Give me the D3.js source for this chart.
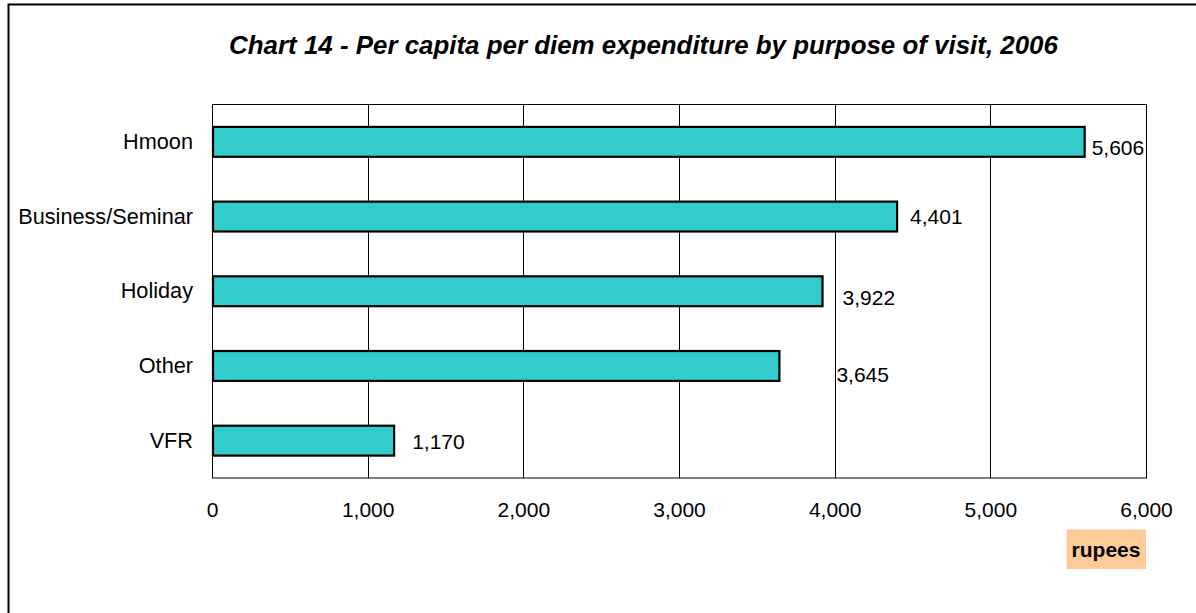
<!DOCTYPE html>
<html>
<head>
<meta charset="utf-8">
<script src="https://cdn.jsdelivr.net/npm/d3@7"></script>
<style>
  html, body { margin: 0; padding: 0; background: #fff; }
  svg { display: block; font-family: "Liberation Sans", Arial, sans-serif; }
</style>
</head>
<body>
<svg id="chart" width="1196" height="613"></svg>
<script>
// ---- data ----
const categories = ["Hmoon", "Business/Seminar", "Holiday", "Other", "VFR"];
const values = [5606, 4401, 3922, 3645, 1170];
const tickValues = [0, 1000, 2000, 3000, 4000, 5000, 6000];
const titleText = "Chart 14 - Per capita per diem expenditure by purpose of visit, 2006";
const unitText = "rupees";
// label nudges (layout only, mimicking original label placement)
const labelDx = [7, 13, 20, 57, 18];
const labelDy = [6, 0, 6, 9, 1];

// ---- layout ----
const svg = d3.select("#chart");
const plot = { left: 212, right: 1146, top: 104.5, bottom: 478 };

// outer frame
svg.append("path")
  .attr("d", "M8.5,613 L8.5,4.5 L1196,4.5")
  .attr("fill", "none").attr("stroke", "#000").attr("stroke-width", 2);

const x = d3.scaleLinear().domain([0, 6000]).range([plot.left, plot.right]);
const y = d3.scaleBand().domain(categories).range([plot.top, plot.bottom])
  .paddingInner(0.6).paddingOuter(0.3);

// gridlines
svg.append("g").selectAll("line").data(tickValues.slice(1, -1)).join("line")
  .attr("x1", d => Math.round(x(d)) + 0.5).attr("x2", d => Math.round(x(d)) + 0.5)
  .attr("y1", plot.top).attr("y2", plot.bottom)
  .attr("stroke", "#000").attr("stroke-width", 1);

// plot border
svg.append("rect")
  .attr("x", plot.left + 0.5).attr("y", plot.top)
  .attr("width", plot.right - plot.left).attr("height", plot.bottom - plot.top)
  .attr("fill", "none").attr("stroke", "#000").attr("stroke-width", 1);

// bars
svg.append("g").selectAll("rect").data(values).join("rect")
  .attr("x", x(0) + 1)
  .attr("y", (d, i) => y(categories[i]))
  .attr("width", d => x(d) - x(0) - 1)
  .attr("height", y.bandwidth())
  .attr("fill", "#33CCCC")
  .attr("stroke", "#000").attr("stroke-width", 2.2);

// value labels
svg.append("g").selectAll("text").data(values).join("text")
  .attr("x", (d, i) => x(d) + labelDx[i])
  .attr("y", (d, i) => y(categories[i]) + y.bandwidth() / 2 + labelDy[i])
  .attr("dy", "0.35em")
  .attr("font-size", 21)
  .attr("fill", "#000")
  .text(d => d3.format(",")(d));

// x axis
const xAxis = d3.axisBottom(x).tickValues(tickValues).tickSize(0).tickPadding(0)
  .tickFormat(d3.format(","));
const gx = svg.append("g").attr("transform", `translate(0,${plot.bottom})`).call(xAxis);
gx.select(".domain").remove();
gx.selectAll("text").attr("font-size", 21).attr("fill", "#000")
  .attr("font-family", "'Liberation Sans', Arial, sans-serif")
  .attr("y", 38.5).attr("dy", 0);

// y axis
const yAxis = d3.axisLeft(y).tickSize(0).tickPadding(19);
const gy = svg.append("g").attr("transform", `translate(${plot.left},0)`).call(yAxis);
gy.select(".domain").remove();
gy.selectAll("text").attr("font-size", 21.7).attr("fill", "#000")
  .attr("font-family", "'Liberation Sans', Arial, sans-serif");

// title
svg.append("text")
  .attr("x", 643.5).attr("y", 53.5)
  .attr("text-anchor", "middle")
  .attr("font-size", 25.9).attr("font-weight", "bold").attr("font-style", "italic")
  .text(titleText);

// unit label box
const ug = svg.append("g");
ug.append("rect").attr("x", 1066.5).attr("y", 529.5).attr("width", 79.5).attr("height", 39.5)
  .attr("fill", "#FFCC99");
ug.append("text").attr("x", 1106).attr("y", 556.5).attr("text-anchor", "middle")
  .attr("font-size", 21).attr("font-weight", "bold").text(unitText);
</script>
</body>
</html>
